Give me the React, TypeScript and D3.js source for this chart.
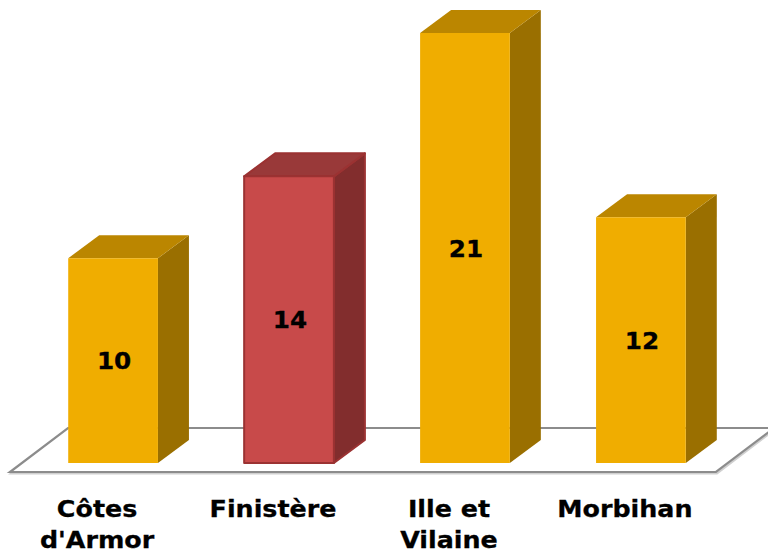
import React from "react";
import * as d3 from "d3";

const categories: string[] = ["Côtes d'Armor", "Finistère", "Ille et Vilaine", "Morbihan"];
const labelLines: string[][] = [["Côtes", "d'Armor"], ["Finistère"], ["Ille et", "Vilaine"], ["Morbihan"]];
const values: number[] = [10, 14, 21, 12];
const highlighted: boolean[] = [false, true, false, false];

const W = 768;
const H = 553;
const DX = 31;
const DY = -23;

const gold = { front: "#F0AD00", side: "#9A6F00", top: "#BB8600", stroke: "none" };
const red = { front: "#C84A4A", side: "#822D2D", top: "#993939", stroke: "#9B3232" };

export default function App() {
  const x = d3.scaleBand<string>().domain(categories).range([-18, 772]).paddingInner(0.49).paddingOuter(0.49);
  const y = d3.scaleLinear().domain([0, 21]).range([463, 33]);
  const bw = x.bandwidth();
  const y0 = y(0);

  const floorFront = 472;
  const floorBack = 428;
  const floor = [
    [10, floorFront],
    [716, floorFront],
    [774, floorBack],
    [68, floorBack],
  ];
  const line = d3.line();

  const font = "'DejaVu Sans', Verdana, sans-serif";

  return (
    <svg width={W} height={H} style={{ position: "fixed", left: 0, top: 0, background: "#fff" }}>
      <path d={line(floor as [number, number][]) + "Z"} fill="none" stroke="#d0d0d0" strokeWidth={2} transform="translate(1,1.5)" />
      <path d={line(floor as [number, number][]) + "Z"} fill="#fff" stroke="#8c8c8c" strokeWidth={2.2} />
      {categories.map((c, i) => {
        const x0 = x(c)!;
        const x1 = x0 + bw;
        const yt = y(values[i]);
        const col = highlighted[i] ? red : gold;
        const sw = highlighted[i] ? 2 : 0;
        const front = line([[x0, yt], [x1, yt], [x1, y0], [x0, y0]])! + "Z";
        const side = line([[x1, yt], [x1 + DX, yt + DY], [x1 + DX, y0 + DY], [x1, y0]])! + "Z";
        const top = line([[x0, yt], [x0 + DX, yt + DY], [x1 + DX, yt + DY], [x1, yt]])! + "Z";
        const cx = (x0 + x1) / 2;
        return (
          <g key={c}>
            <path d={side} fill={col.side} stroke={col.stroke} strokeWidth={sw} strokeLinejoin="round" />
            <path d={top} fill={col.top} stroke={col.stroke} strokeWidth={sw} strokeLinejoin="round" />
            <path d={front} fill={col.front} stroke={col.stroke} strokeWidth={sw} strokeLinejoin="round" />
            <text
              transform={`translate(${cx + 1},${(yt + y0) / 2 + 8.5}) scale(1.05,1)`}
              textAnchor="middle"
              fontFamily={font}
              fontWeight="bold"
              fontSize={23.5}
              fill="#000"
              stroke="#000"
              strokeWidth={0.3}
            >
              {values[i]}
            </text>
            {labelLines[i].map((ln, j) => (
              <text
                key={j}
                transform={`translate(${cx - 16},${517 + j * 31}) scale(1.08,1)`}
                textAnchor="middle"
                fontFamily={font}
                fontWeight="bold"
                fontSize={23.5}
                fill="#000"
                stroke="#000"
                strokeWidth={0.3}
              >
                {ln}
              </text>
            ))}
          </g>
        );
      })}
    </svg>
  );
}
